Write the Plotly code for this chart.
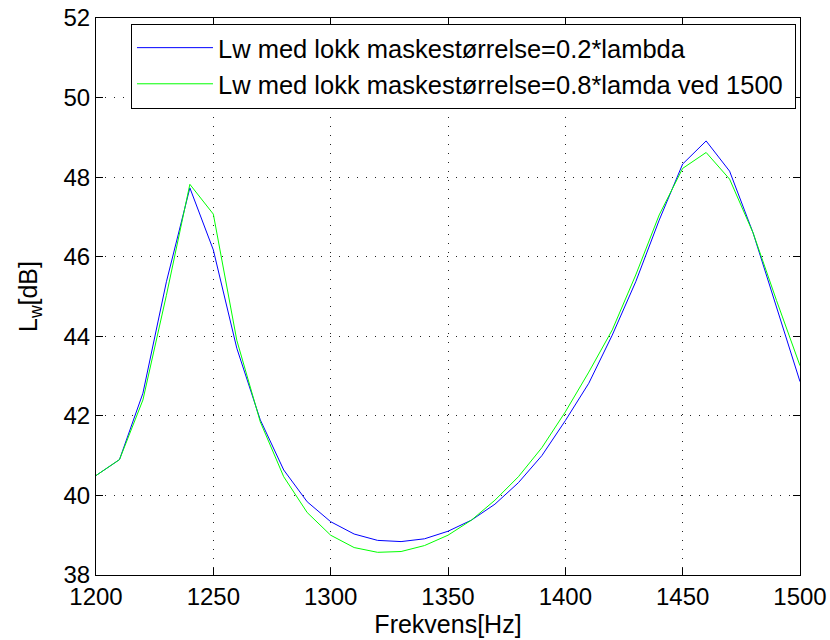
import plotly.graph_objects as go

freq = list(range(1200, 1501, 10))

lw_02 = [40.5, 40.9, 42.57, 45.37, 47.73, 46.17, 43.7, 41.9, 40.64, 39.84,
         39.34, 39.03, 38.87, 38.84, 38.91, 39.1, 39.38, 39.78, 40.32, 41.0,
         41.88, 42.82, 44.03, 45.37, 46.92, 48.33, 48.91, 48.15, 46.6, 44.74, 42.86]

lw_08 = [40.5, 40.9, 42.4, 45.03, 47.82, 47.07, 43.9, 41.85, 40.47, 39.57,
         39.0, 38.69, 38.57, 38.59, 38.74, 39.0, 39.38, 39.88, 40.47, 41.2,
         42.1, 43.1, 44.16, 45.54, 47.05, 48.22, 48.62, 47.95, 46.6, 44.9, 43.26]

names = ["Lw med lokk maskestørrelse=0.2*lambda",
         "Lw med lokk maskestørrelse=0.8*lamda ved 1500\u00a0"]

x_ticks = [1200, 1250, 1300, 1350, 1400, 1450, 1500]
y_ticks = [38, 40, 42, 44, 46, 48, 50, 52]

font = "Liberation Sans, Arial, Helvetica, sans-serif"
fsize = 25

fig = go.Figure()
fig.add_trace(go.Scatter(x=freq, y=lw_02, mode="lines", name=names[0],
                         line=dict(color="#0000ff", width=1)))
fig.add_trace(go.Scatter(x=freq, y=lw_08, mode="lines", name=names[1],
                         line=dict(color="#00ff00", width=1)))

axis_common = dict(
    showline=True, linecolor="black", linewidth=1, mirror="ticks",
    ticks="inside", ticklen=7, tickcolor="black",
    showgrid=True, gridcolor="#222222", gridwidth=1, griddash="1px,8px",
    zeroline=False, automargin=False,
    tickfont=dict(size=24, color="black", family=font),
)

fig.update_xaxes(range=[1200, 1500], tickvals=x_ticks,
                 title=dict(text="Frekvens[Hz]", font=dict(size=fsize, color="black", family=font), standoff=2),
                 **axis_common)
fig.update_yaxes(range=[38, 52], tickvals=y_ticks,
                 title=dict(text="L<sub>w</sub>[dB]", font=dict(size=fsize, color="black", family=font), standoff=18),
                 **axis_common)

fig.update_layout(
    width=830, height=640,
    margin=dict(l=96, r=30, t=18, b=65),
    paper_bgcolor="white", plot_bgcolor="white",
    font=dict(family=font, size=fsize, color="black"),
    legend=dict(x=0.9943, y=0.99, xanchor="right", yanchor="top",
                bgcolor="white", bordercolor="black", borderwidth=1,
                font=dict(size=25.5, family=font, color="black"),
                itemwidth=76, tracegroupgap=0),
    showlegend=True,
)

fig.write_html("out.html")
